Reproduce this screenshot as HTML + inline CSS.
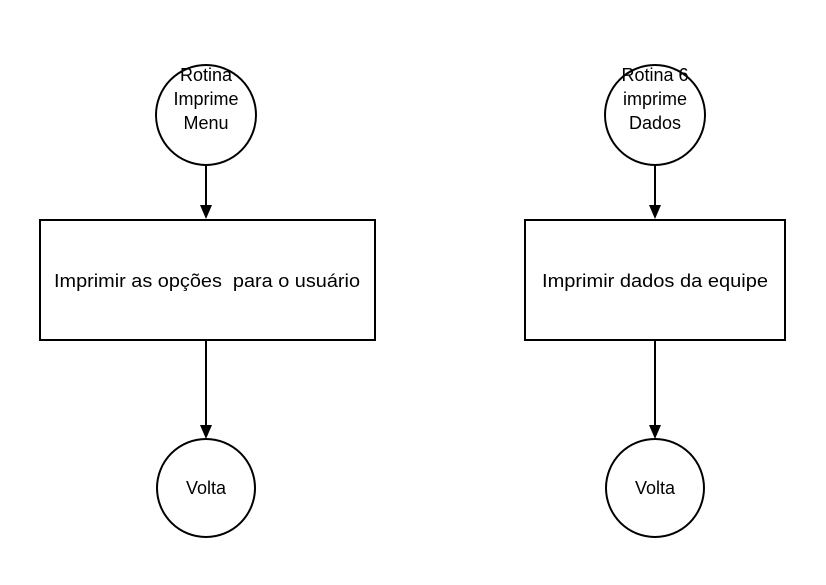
<!DOCTYPE html>
<html><head><style>body{margin:0;background:#fff}</style></head><body>
<svg width="826" height="580" xmlns="http://www.w3.org/2000/svg" font-family="Liberation Sans, Arial, sans-serif" font-size="18" text-anchor="middle">
<rect width="826" height="580" fill="#fff"/>
<g fill="#fff" stroke="#000" stroke-width="2">
<circle cx="206" cy="115" r="50"/>
<circle cx="655" cy="115" r="50"/>
<rect x="40" y="220" width="335" height="120"/>
<rect x="525" y="220" width="260" height="120"/>
<circle cx="206" cy="488" r="49"/>
<circle cx="655" cy="488" r="49"/>
</g>
<g stroke="#000" stroke-width="2">
<line x1="206" y1="165" x2="206" y2="208"/>
<line x1="655" y1="165" x2="655" y2="208"/>
<line x1="206" y1="340" x2="206" y2="427"/>
<line x1="655" y1="340" x2="655" y2="427"/>
</g>
<g fill="#000">
<path d="M200,205 L212,205 L206,219 Z"/>
<path d="M649,205 L661,205 L655,219 Z"/>
<path d="M200,425 L212,425 L206,439 Z"/>
<path d="M649,425 L661,425 L655,439 Z"/>
</g>
<g fill="#000">
<text x="206" y="81">Rotina</text>
<text x="206" y="105">Imprime</text>
<text x="206" y="129">Menu</text>
<text x="655" y="81">Rotina 6</text>
<text x="655" y="105">imprime</text>
<text x="655" y="129">Dados</text>
<text x="207" y="287" xml:space="preserve" textLength="306" lengthAdjust="spacingAndGlyphs">Imprimir as opções  para o usuário</text>
<text x="655" y="287" textLength="226" lengthAdjust="spacingAndGlyphs">Imprimir dados da equipe</text>
<text x="206" y="494">Volta</text>
<text x="655" y="494">Volta</text>
</g>
</svg>
</body></html>
